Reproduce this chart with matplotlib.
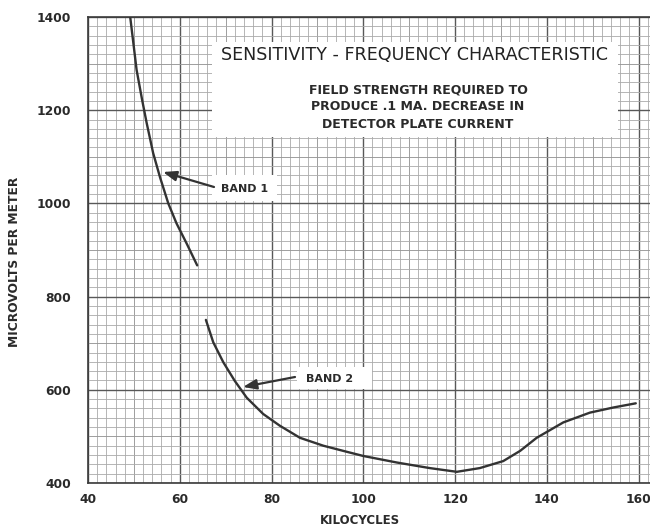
import matplotlib
matplotlib.use("Agg")
import matplotlib.pyplot as plt
from matplotlib.patches import Rectangle
import numpy as np

# ---- data ----
band1_kc = [49.2, 50.6, 51.8, 52.8, 54.2, 55.7, 57.5, 59.3, 61.5, 63.8]
band1_uv = [1400, 1286, 1222, 1172, 1108, 1056, 1000, 957, 914, 867]

band2_kc = [65.7, 67.3, 69.5, 72.0, 74.6, 78.2, 81.8, 86.2, 91.3, 96.4, 100.0,
            107.3, 114.5, 120.4, 125.4, 130.5, 134.2, 137.8, 143.6, 149.4,
            154.5, 159.4]
band2_uv = [750, 702, 659, 619, 583, 548, 523, 497, 480, 467, 458,
            444, 432, 424, 432, 447, 469, 497, 530, 551, 562, 571]

x_ticks = [40, 60, 80, 100, 120, 140, 160]
y_ticks = [400, 600, 800, 1000, 1200, 1400]

title = "SENSITIVITY - FREQUENCY CHARACTERISTIC"
subtitle = ["FIELD STRENGTH REQUIRED TO",
            "PRODUCE .1 MA. DECREASE IN",
            "DETECTOR PLATE CURRENT"]
x_label = "KILOCYCLES"
y_label = "MICROVOLTS PER METER"

W, H = 650, 528
fig = plt.figure(figsize=(W / 100, H / 100), dpi=100)
fig.patch.set_facecolor("white")

def fx(px):
    return px / W

def fy(py):
    return 1 - py / H

ax = fig.add_axes([fx(88), fy(483), fx(650) - fx(88), fy(17) - fy(483)])
ax.set_xlim(40, 162.5)
ax.set_ylim(400, 1400)

# graph-paper grid
for xv in np.arange(40, 163, 2):
    if xv % 20 == 0:
        c, lw = "#585858", 1.0
    elif xv % 10 == 0:
        c, lw = "#979797", 0.65
    else:
        c, lw = "#aaaaaa", 0.6
    ax.axvline(xv, color=c, lw=lw, zorder=0.5)
for yv in np.arange(400, 1401, 20):
    if yv % 200 == 0:
        c, lw = "#585858", 1.0
    elif yv % 100 == 0:
        c, lw = "#979797", 0.65
    else:
        c, lw = "#aaaaaa", 0.6
    ax.axhline(yv, color=c, lw=lw, zorder=0.5)

ax.spines["right"].set_visible(False)
for s in ["left", "bottom", "top"]:
    ax.spines[s].set_color("#3a3a3a")
    ax.spines[s].set_linewidth(1.2)

ax.set_xticks(x_ticks)
ax.set_yticks(y_ticks)
ax.set_xticklabels([str(v) for v in x_ticks])
ax.set_yticklabels([str(v) for v in y_ticks])
ax.tick_params(axis="both", length=0, labelsize=8.8, colors="#2a2a2a")
ax.tick_params(axis="y", pad=12)
ax.tick_params(axis="x", pad=7)
for lab in ax.get_xticklabels() + ax.get_yticklabels():
    lab.set_fontweight("bold")

# curves
ax.plot(band1_kc, band1_uv, color="#333333", lw=1.7, zorder=5,
        solid_capstyle="round", solid_joinstyle="round")
ax.plot(band2_kc, band2_uv, color="#333333", lw=1.7, zorder=5,
        solid_capstyle="round", solid_joinstyle="round")

# title box
ax.add_patch(Rectangle((fx(212), fy(137)), fx(618) - fx(212), fy(42) - fy(137),
                       transform=fig.transFigure, facecolor="white",
                       edgecolor="none", zorder=3))
fig.text(fx(415), fy(55), title, ha="center", va="center", fontsize=12.6,
         color="#222222", zorder=6)
for i, line in enumerate(subtitle):
    fig.text(fx(418), fy(90 + 17 * i), line, ha="center", va="center",
             fontsize=9.0, fontweight="bold", color="#2a2a2a", zorder=6)

# band labels
ax.add_patch(Rectangle((fx(212), fy(201)), fx(277) - fx(212), fy(175) - fy(201),
                       transform=fig.transFigure, facecolor="white",
                       edgecolor="none", zorder=3))
fig.text(fx(245), fy(189), "BAND 1", ha="center", va="center", fontsize=8,
         fontweight="bold", color="#2a2a2a", zorder=6)
ax.add_patch(Rectangle((fx(297), fy(389)), fx(372) - fx(297), fy(367) - fy(389),
                       transform=fig.transFigure, facecolor="white",
                       edgecolor="none", zorder=3))
fig.text(fx(330), fy(379), "BAND 2", ha="center", va="center", fontsize=8,
         fontweight="bold", color="#2a2a2a", zorder=6)

arrow_kw = dict(arrowstyle="-|>,head_length=0.8,head_width=0.3",
                color="#333333", lw=1.6, shrinkA=0, shrinkB=0)
ax.annotate("", xy=(fx(163), fy(172)), xytext=(fx(214), fy(187)),
            xycoords="figure fraction", textcoords="figure fraction",
            arrowprops=arrow_kw, zorder=6)
ax.annotate("", xy=(fx(243), fy(387)), xytext=(fx(295), fy(377)),
            xycoords="figure fraction", textcoords="figure fraction",
            arrowprops=arrow_kw, zorder=6)

fig.text(fx(15), fy(262), y_label, rotation=90, ha="center", va="center",
         fontsize=8.8, fontweight="bold", color="#2a2a2a")
fig.text(fx(360), fy(520), x_label, ha="center", va="center",
         fontsize=8.5, fontweight="bold", color="#2a2a2a")

fig.savefig("out.png", dpi=100, facecolor="white")
